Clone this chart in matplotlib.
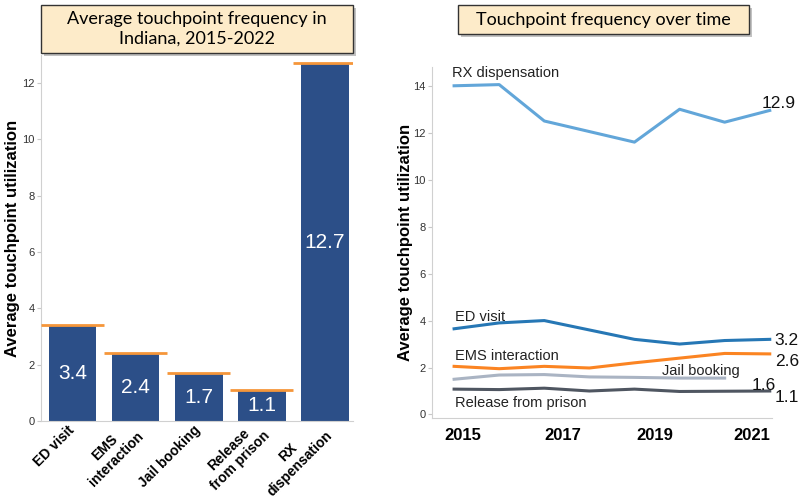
import matplotlib.pyplot as plt
from matplotlib.patches import Rectangle

plt.rcParams['font.family'] = ['Liberation Sans', 'DejaVu Sans']

# left chart: average over 2015-2022
categories = ['ED visit', 'EMS\ninteraction', 'Jail booking', 'Release\nfrom prison', 'RX\ndispensation']
averages = [3.4, 2.4, 1.7, 1.1, 12.7]

# right chart: yearly values
years = [2015, 2016, 2017, 2018, 2019, 2020, 2021, 2022]
rx = [14.0, 14.05, 12.5, 12.05, 11.6, 13.0, 12.45, 12.95]
ed = [3.65, 3.9, 4.0, 3.6, 3.2, 3.0, 3.15, 3.2]
ems = [2.05, 1.95, 2.05, 1.98, 2.2, 2.4, 2.6, 2.58]
jail = [1.5, 1.68, 1.7, 1.6, 1.58, 1.55, 1.55]
release = [1.08, 1.06, 1.12, 1.0, 1.08, 0.98, 0.99, 1.0]
end_values = ['12.9', '3.2', '2.6', '1.6', '1.1']
year_ticks = ['2015', '2017', '2019', '2021']

W, H = 800, 501
fig = plt.figure(figsize=(8, 5.01), dpi=100)


def fig_box(x0, y0, x1, y1):
    # pixel box (from top-left) -> figure fraction rect
    return [x0 / W, 1 - y1 / H, (x1 - x0) / W, (y1 - y0) / H]


def style_axis(ax):
    for s in ['top', 'right']:
        ax.spines[s].set_visible(False)
    for s in ['left', 'bottom']:
        ax.spines[s].set_color('#d0d0d0')
    ax.tick_params(axis='y', labelsize=8, length=3, pad=1.5, color='#c8c8c8', labelcolor='#333333')


# ---- bar chart ----
ax1 = fig.add_axes(fig_box(41, 55, 353, 421))
style_axis(ax1)
xs = range(len(categories))
ax1.bar(xs, averages, width=0.76, color='#2c4f88')
ax1.hlines(averages, [x - 0.5 for x in xs], [x + 0.5 for x in xs], color='#f5963a', lw=2, zorder=3)
for x, v in zip(xs, averages):
    ax1.text(x, v / 2, f'{v:.1f}', color='white', ha='center', va='center', fontsize=15)
ax1.set_xlim(-0.5, 4.45)
ax1.set_ylim(0, 13)
ax1.set_yticks(range(0, 13, 2))
ax1.set_xticks(list(xs))
ax1.set_xticklabels(categories, rotation=45, ha='right', va='center', rotation_mode='anchor',
                    fontsize=10, fontweight='bold', multialignment='center')
ax1.tick_params(axis='x', length=0, pad=5)
ax1.set_ylabel('Average touchpoint utilization', fontsize=12, fontweight='bold')
ax1.yaxis.set_label_coords(-0.068, 0.5)

# ---- line chart ----
ax2 = fig.add_axes(fig_box(432, 67, 772, 418))
style_axis(ax2)
ax2.plot(years, rx, color='#62a6d9', lw=2.2)
ax2.plot(years, ed, color='#2677b5', lw=2.2)
ax2.plot(years, ems, color='#fb8422', lw=2.2)
ax2.plot(years[:len(jail)], jail, color='#aab4c3', lw=2.2)
ax2.plot(years, release, color='#4f5661', lw=2.2)
ax2.set_xlim(2014.51, 2022.05)
ax2.set_ylim(-0.15, 14.8)
ax2.set_yticks(range(0, 15, 2))
ax2.set_xticks([2015.2, 2017.4, 2019.45, 2021.6])
ax2.set_xticklabels(year_ticks, fontsize=12, fontweight='bold')
ax2.tick_params(axis='x', length=0, pad=7)
ax2.set_ylabel('Average touchpoint utilization', fontsize=12, fontweight='bold')
ax2.yaxis.set_label_coords(-0.056, 0.5)

kw = dict(fontsize=10.5, ha='left', va='center', color='#222222')
ax2.text(2014.96, 14.55, 'RX dispensation', **kw)
ax2.text(2015.02, 4.17, 'ED visit', **kw)
ax2.text(2015.02, 2.47, 'EMS interaction', **kw)
ax2.text(2019.6, 1.87, 'Jail booking', **kw)
ax2.text(2015.02, 0.47, 'Release from prison', **kw)

end_pos = [(2021.82, 13.23), (2022.11, 3.15), (2022.13, 2.26), (2021.6, 1.23), (2022.11, 0.72)]
for (x, y), t in zip(end_pos, end_values):
    ax2.text(x, y, t, fontsize=12.5, ha='left', va='center', color='#111111', clip_on=False)


# ---- title boxes ----
def title_box(x0, y0, x1, y1, text):
    shadow = Rectangle(((x0 + 3) / W, 1 - (y1 + 3) / H), (x1 - x0) / W, (y1 - y0) / H,
                       transform=fig.transFigure, facecolor='#9a9a9a', edgecolor='none', alpha=0.6)
    fig.patches.append(shadow)
    box = Rectangle((x0 / W, 1 - y1 / H), (x1 - x0) / W, (y1 - y0) / H,
                    transform=fig.transFigure, facecolor='#fdebc9', edgecolor='#333333', lw=1)
    fig.patches.append(box)
    fig.text((x0 + x1) / 2 / W, 1 - (y0 + y1) / 2 / H, text, ha='center', va='center',
             fontsize=13, family=['Lato', 'DejaVu Sans'], linespacing=1.25)


title_box(41, 5, 353, 53, 'Average touchpoint frequency in\nIndiana, 2015-2022')
title_box(458, 5, 749, 34, 'Touchpoint frequency over time')

fig.savefig('out.png', dpi=100)
